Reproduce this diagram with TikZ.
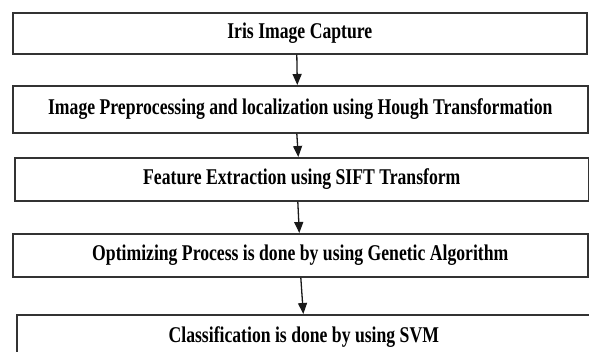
\documentclass[tikz,border=0pt]{standalone}
\usepackage{fontspec}
\setmainfont{Liberation Serif}[FakeStretch=0.785]
\usepackage{tikz}
\usetikzlibrary{arrows.meta, positioning}

\begin{document}
\begin{tikzpicture}[
    x=1pt, y=-1pt,
    stepbox/.style={
        draw=black!80, line width=1.6pt, anchor=north west, inner sep=0pt,
        minimum width=574pt, minimum height=43pt, align=center,
        font=\fontsize{22.5}{27}\selectfont\bfseries
    },
    flow/.style={-{Triangle[length=11pt, width=9pt]}, line width=1.3pt, black!90}
]
\useasboundingbox (0,0) rectangle (589,351);
\clip (0,0) rectangle (589,351);

\node[stepbox, minimum height=41pt] (capture) at (12,12) {Iris Image Capture};
\node[stepbox, minimum width=575pt, minimum height=47pt] (preproc) at (12,85) {Image Preprocessing and localization  using Hough Transformation};
\node[stepbox] (feature) at (14,157) {Feature Extraction  using SIFT Transform};
\node[stepbox, minimum width=575pt] (optim) at (12,233) {Optimizing Process  is done by using Genetic Algorithm};
\node[stepbox, minimum height=44pt] (classify) at (16,314) {Classification is done by using SVM};

\draw[flow] ([xshift=-3pt]capture.south) -- ([xshift=-3pt]preproc.north);
\draw[flow] ([xshift=-3.5pt]preproc.south) -- ([xshift=-3.5pt]feature.north);
\draw[flow] ([xshift=-4pt]feature.south) -- ([xshift=-1pt]optim.north);
\draw[flow] ([xshift=0.5pt]optim.south) -- ([xshift=-0.5pt]classify.north);

\end{tikzpicture}
\end{document}
